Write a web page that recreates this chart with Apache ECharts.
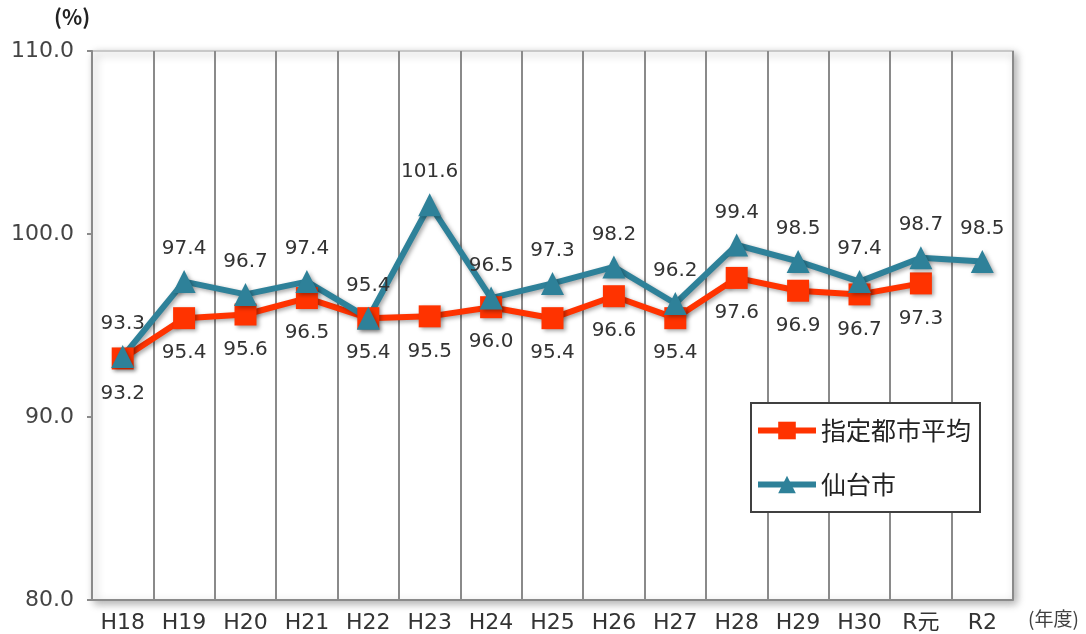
<!DOCTYPE html>
<html><head><meta charset="utf-8">
<script src="https://cdn.jsdelivr.net/npm/echarts@6/dist/echarts.min.js"></script>
<style>html,body{margin:0;padding:0;background:#fff}#c{width:1086px;height:634px}</style>
</head><body><div id="c"></div>
<script>
const categories = ['H18','H19','H20','H21','H22','H23','H24','H25','H26','H27','H28','H29','H30','R元','R2'];
const avgValues = [93.2,95.4,95.6,96.5,95.4,95.5,96.0,95.4,96.6,95.4,97.6,96.9,96.7,97.3,null];
const sendaiValues = [93.3,97.4,96.7,97.4,95.4,101.6,96.5,97.3,98.2,96.2,99.4,98.5,97.4,98.7,98.5];
const seriesNames = ['指定都市平均','仙台市'];
const FONT = "'Noto Sans CJK JP', 'Noto Sans', sans-serif";
const NUMFONT = "'DejaVu Sans', 'Noto Sans CJK JP', sans-serif";
const chart = echarts.init(document.getElementById('c'));
const sh = {shadowBlur:4,shadowColor:'rgba(0,0,0,0.35)',shadowOffsetX:2,shadowOffsetY:2};
chart.setOption({
  animation:false,
  textStyle:{fontFamily:FONT},
  graphic:[
    {type:'text',left:54,top:7,style:{text:'(%)',font:'bold 21px '+FONT,fill:'#222'}},
    {type:'text',left:1028,top:609,style:{text:'(年度)',font:'19px '+FONT,fill:'#404040'}}
  ],
  grid:{left:92,right:73,top:51,bottom:34,show:true,backgroundColor:'#fff',borderColor:'#c8c8c8',borderWidth:2,
        shadowBlur:8,shadowColor:'rgba(0,0,0,0.3)',shadowOffsetX:3,shadowOffsetY:3},
  legend:{orient:'vertical',left:751,top:403,padding:[15,9,15,4],itemGap:29,
    itemWidth:58,itemHeight:22,borderColor:'#404040',borderWidth:2,backgroundColor:'#fff',
    lineStyle:{width:6},
    textStyle:{fontSize:25,color:'#222',fontFamily:FONT},data:seriesNames},
  xAxis:{type:'category',data:categories,boundaryGap:true,
    axisLine:{show:true,lineStyle:{color:'#8a8a8a',width:2}},axisTick:{show:false},
    splitLine:{show:true,lineStyle:{color:'#8a8a8a',width:2}},
    axisLabel:{fontSize:22,color:'#333',margin:12,interval:0,fontFamily:NUMFONT}},
  yAxis:{type:'value',min:80,max:110,interval:10,
    axisLine:{show:true,lineStyle:{color:'#8a8a8a',width:2}},
    axisTick:{show:true,length:5,lineStyle:{color:'#8a8a8a',width:2}},
    splitLine:{show:false},
    axisLabel:{fontSize:22,color:'#444',margin:18,fontFamily:NUMFONT,formatter:v=>v.toFixed(1)}},
  series:[
    {name:seriesNames[0],type:'line',data:avgValues,symbol:'rect',symbolSize:22,
     lineStyle:Object.assign({color:'#ff3300',width:6},sh),itemStyle:Object.assign({color:'#ff3300'},sh),
     label:{show:true,position:'bottom',distance:14,fontSize:20,color:'#333',fontFamily:NUMFONT,formatter:p=>p.value.toFixed(1)}},
    {name:seriesNames[1],type:'line',data:sendaiValues,symbol:'triangle',symbolSize:23,
     lineStyle:Object.assign({color:'#2e8199',width:6},sh),itemStyle:Object.assign({color:'#2e8199'},sh),
     label:{show:true,position:'top',distance:11,fontSize:20,color:'#333',fontFamily:NUMFONT,formatter:p=>p.value.toFixed(1)}}
  ]
});
</script></body></html>
